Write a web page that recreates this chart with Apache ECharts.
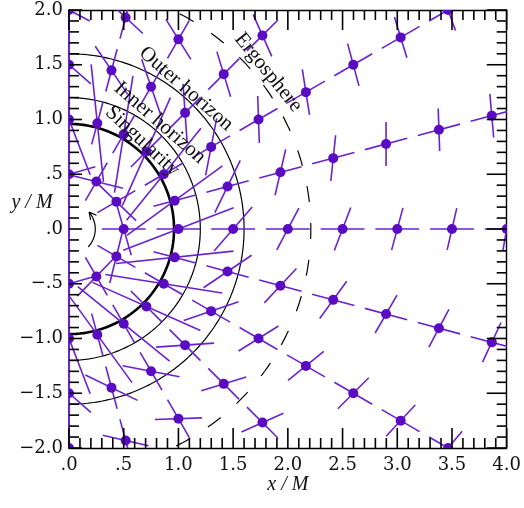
<!DOCTYPE html>
<html>
<head>
<meta charset="utf-8">
<script src="https://cdn.jsdelivr.net/npm/echarts@6/dist/echarts.min.js"></script>
<style>
  html, body { margin: 0; padding: 0; background: #fff; }
  #chart { width: 524px; height: 508px; }
</style>
</head>
<body>
<div id="chart"></div>
<script>
// dots sit on rings of radius r, one every angleSteps degrees
const radii = [0.5, 1, 1.5, 2, 2.5, 3, 3.5, 4]
const angleSteps = [30, 15, 15, 15, 15, 15, 15, 15]
// radial bar half length, and the tilted bar (angle from radial, half length)
const radialHalf = [0.2, 0.2, 0.2, 0.2, 0.2, 0.2, 0.2, 0.2]
const tiltOffset = [106, 21, 49, 62, 69, 75, 77, 80]
const tiltHalf = [0.25, 0.54, 0.265, 0.215, 0.21, 0.2, 0.195, 0.2]

const xTickLabels = ['.0', '.5', '1.0', '1.5', '2.0', '2.5', '3.0', '3.5', '4.0']
const yTickLabels = ['\u22122.0', '\u22121.5', '\u22121.0', '\u2212.5', '.0', '.5', '1.0', '1.5', '2.0']

const ringNames = ['Singularity', 'Inner horizon', 'Outer horizon', 'Ergosphere']
const ringRadii = [0.96, 1.2, 1.6, 2.21]
const ringWidths = [2.6, 1.2, 1.2, 1.2]
const labelAnchors = [[0.67, 0.8], [0.83, 0.97], [1.07, 1.28], [1.82, 1.43]]
const labelAngles = [-43, -41, -41, -51]

const arrowRadius = 0.24
const arrowSpan = [-43, 40]

const dotColor = '#5a0cc2'
const barColor = '#6a22cf'
const deg = Math.PI / 180

const xRange = [0, 4]
const yRange = [-2, 2]
const gridBox = { left: 69, right: 16, top: 10, bottom: 60 }

const crosses = []
radii.forEach((r, i) => {
  for (let a = -90; a <= 90; a += angleSteps[i]) {
    const t = a * deg
    const x = r * Math.cos(t)
    const y = r * Math.sin(t)
    if (x > xRange[1] + 1e-6 || Math.abs(y) > yRange[1] + 1e-6) continue
    crosses.push([x, y, t, radialHalf[i], t + tiltOffset[i] * deg, tiltHalf[i]])
  }
})

const arc = (r, from, to) => {
  const pts = []
  for (let a = from; a <= to + 1e-9; a += 1) {
    pts.push([r * Math.cos(a * deg), r * Math.sin(a * deg)])
  }
  return pts
}

const ringSeries = ringRadii.map((r, i) => ({
  type: 'line',
  name: ringNames[i],
  data: arc(r, -90, 90),
  showSymbol: false,
  symbol: 'none',
  silent: true,
  clip: true,
  z: 2,
  lineStyle: {
    color: '#000',
    width: ringWidths[i],
    type: i === 3 ? [16, 21] : 'solid',
  },
}))

// frame ticks every 0.1, long ones every 0.5, pointing into the plot
const pxX = (524 - gridBox.left - gridBox.right) / (xRange[1] - xRange[0])
const pxY = (508 - gridBox.top - gridBox.bottom) / (yRange[1] - yRange[0])
const tickSeries = []
const addTick = (a, b) => tickSeries.push({
  type: 'line',
  data: [a, b],
  showSymbol: false,
  symbol: 'none',
  silent: true,
  clip: false,
  z: 6,
  lineStyle: { color: '#000', width: 1.6 },
})
for (let k = 0; k <= 40; k++) {
  const major = k % 5 === 0
  const len = major ? 20 : 10
  const xv = xRange[0] + k * 0.1
  const yv = yRange[0] + k * 0.1
  addTick([xv, yRange[0]], [xv, yRange[0] + len / pxY])
  addTick([xv, yRange[1]], [xv, yRange[1] - len / pxY])
  addTick([xRange[0], yv], [xRange[0] + (major ? 13 : 10) / pxX, yv])
  addTick([xRange[1], yv], [xRange[1] - len / pxX, yv])
}

const chart = echarts.init(document.getElementById('chart'))

const tickFont = { fontFamily: 'DejaVu Serif', fontSize: 18, color: '#111' }

const frameAxis = (position, extra) => ({
  type: 'value',
  position,
  axisLine: { show: true, onZero: false, lineStyle: { color: '#000', width: 1.4 } },
  axisTick: { show: false },
  minorTick: { show: false },
  splitLine: { show: false },
  axisLabel: { show: false },
  ...extra,
})

const option = {
  animation: false,
  grid: gridBox,
  xAxis: [
    frameAxis('bottom', {
      min: xRange[0], max: xRange[1], interval: 0.5,
      axisLabel: {
        ...tickFont, margin: 8,
        formatter: (v) => xTickLabels[Math.round(v / 0.5)],
      },
    }),
    frameAxis('top', { min: xRange[0], max: xRange[1], interval: 0.5 }),
  ],
  yAxis: [
    frameAxis('left', {
      min: yRange[0], max: yRange[1], interval: 0.5,
      axisLine: { show: true, onZero: false, lineStyle: { color: barColor, width: 2 } },
      axisLabel: {
        ...tickFont, margin: 6,
        formatter: (v) => yTickLabels[Math.round((v + 2) / 0.5)],
      },
    }),
    frameAxis('right', { min: yRange[0], max: yRange[1], interval: 0.5 }),
  ],
  series: [
    ...ringSeries,
    ...tickSeries,
    {
      type: 'custom',
      name: 'bars',
      data: crosses,
      clip: true,
      silent: true,
      z: 3,
      encode: { x: 0, y: 1 },
      renderItem: (params, api) => {
        const x = api.value(0)
        const y = api.value(1)
        const seg = (ang, h) => {
          const p1 = api.coord([x - h * Math.cos(ang), y - h * Math.sin(ang)])
          const p2 = api.coord([x + h * Math.cos(ang), y + h * Math.sin(ang)])
          return {
            type: 'line',
            shape: { x1: p1[0], y1: p1[1], x2: p2[0], y2: p2[1] },
            style: { stroke: barColor, lineWidth: 1.6 },
          }
        }
        return {
          type: 'group',
          children: [seg(api.value(2), api.value(3)), seg(api.value(4), api.value(5))],
        }
      },
    },
    {
      type: 'custom',
      name: 'dots',
      data: crosses,
      clip: true,
      silent: true,
      z: 4,
      encode: { x: 0, y: 1 },
      renderItem: (params, api) => {
        const p = api.coord([api.value(0), api.value(1)])
        return {
          type: 'circle',
          shape: { cx: p[0], cy: p[1], r: 5 },
          style: { fill: dotColor },
        }
      },
    },
    {
      type: 'custom',
      name: 'arrow',
      data: [[arrowRadius, arrowSpan[0], arrowSpan[1]]],
      clip: true,
      silent: true,
      z: 3,
      renderItem: (params, api) => {
        const r = api.value(0)
        const pts = arc(r, api.value(1), api.value(2)).map((p) => api.coord(p))
        const end = pts[pts.length - 1]
        const prev = pts[pts.length - 4]
        let dx = end[0] - prev[0]
        let dy = end[1] - prev[1]
        const len = Math.hypot(dx, dy)
        dx /= len
        dy /= len
        const head = (s) => {
          const c = Math.cos(s * 28 * deg)
          const sn = Math.sin(s * 28 * deg)
          const bx = -(dx * c - dy * sn)
          const by = -(dx * sn + dy * c)
          return {
            type: 'line',
            shape: { x1: end[0], y1: end[1], x2: end[0] + 8 * bx, y2: end[1] + 8 * by },
            style: { stroke: '#000', lineWidth: 1.2 },
          }
        }
        return {
          type: 'group',
          children: [
            { type: 'polyline', shape: { points: pts }, style: { stroke: '#000', lineWidth: 1.2, fill: 'none' } },
            head(1),
            head(-1),
          ],
        }
      },
    },
  ],
}

chart.setOption(option)

const toPx = (p) => chart.convertToPixel({ gridIndex: 0 }, p)

const labelFont = { fontFamily: 'Liberation Serif', fontSize: 21, fill: '#111' }
const graphics = ringNames.map((name, i) => {
  const p = toPx(labelAnchors[i])
  return {
    type: 'text',
    x: p[0],
    y: p[1],
    rotation: labelAngles[i] * deg,
    z: 10,
    style: { text: name, ...labelFont, align: 'center', verticalAlign: 'middle', textAlign: 'center', textVerticalAlign: 'middle' },
  }
})

const yName = toPx([0, 0.24])
const xName = toPx([2, -2])
graphics.push({
  type: 'text', x: yName[0] - 37, y: yName[1], z: 10,
  style: { text: 'y / M', fontFamily: 'Liberation Serif', fontStyle: 'italic', fontSize: 20, fill: '#111',
    align: 'center', verticalAlign: 'middle', textAlign: 'center', textVerticalAlign: 'middle' },
})
graphics.push({
  type: 'text', x: xName[0], y: xName[1] + 37, z: 10,
  style: { text: 'x / M', fontFamily: 'Liberation Serif', fontStyle: 'italic', fontSize: 20, fill: '#111',
    align: 'center', verticalAlign: 'middle', textAlign: 'center', textVerticalAlign: 'middle' },
})
chart.setOption({ graphic: graphics })

window.addEventListener('resize', () => chart.resize())
</script>
</body>
</html>
